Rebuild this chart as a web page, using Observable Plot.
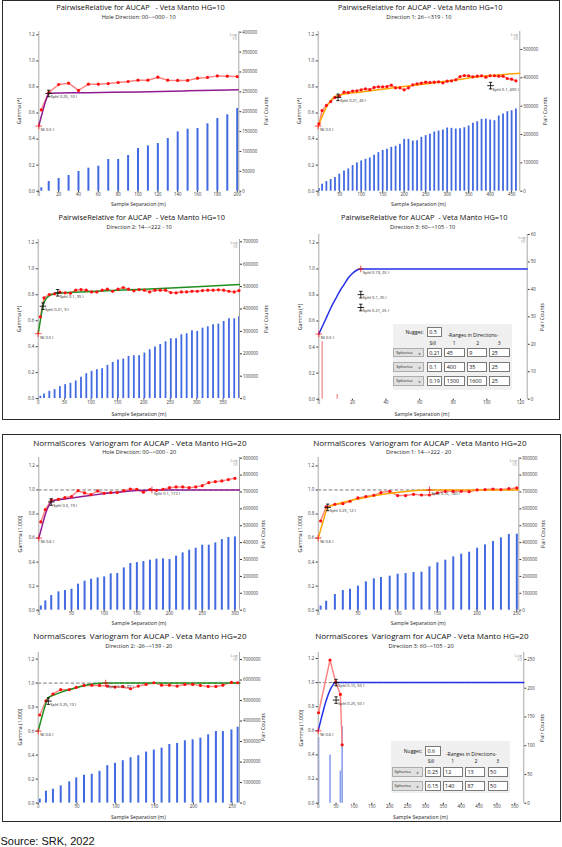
<!DOCTYPE html>
<html><head><meta charset="utf-8">
<script src="https://cdn.jsdelivr.net/npm/d3@7"></script>
<script src="https://cdn.jsdelivr.net/npm/@observablehq/plot@0.6"></script>
<style>
html,body{margin:0;padding:0;background:#fff;}
#root{position:relative;width:562px;height:847px;overflow:hidden;font-family:"Open Sans",sans-serif;}
</style></head><body><div id="root"></div>
<script>
// ---------------- DATA ----------------
const gammaTicks = [0, 0.2, 0.4, 0.6, 0.8, 1.0, 1.2];

// Panel 1 — PairwiseRelative, Hole Direction
const p1Title = "PairwiseRelative for AUCAP   - Veta Manto HG=10";
const p1Sub = "Hole Direction: 00-->000 - 10";
const p1Lag = [2.5,10,20,30,40,50,60,70,80,90,100,110,120,130,140,150,160,170,180,190,200];
const p1Gamma = [0.624,0.757,0.819,0.829,0.773,0.821,0.821,0.826,0.834,0.842,0.852,0.852,0.875,0.852,0.850,0.850,0.867,0.873,0.885,0.883,0.880];
const p1Pairs = [8400,24300,31900,39400,49500,57900,62900,79700,79700,89700,107300,114000,119900,132500,149300,156000,157700,169400,182800,192000,208000];
const p1ModelLag = [0,2,4,6,8,10,50,100,150,201];
const p1ModelGamma = [0.5,0.56,0.615,0.67,0.715,0.752,0.756,0.762,0.77,0.778];
const p1MarkLag = [0,10];
const p1MarkGamma = [0.5,0.75];
const p1MarkLabel = ["N( 0.5 )","Sph( 0.25, 10 )"];
const p1MarkKind = ["nugget","structure"];
const p1XTicks = [0,20,40,60,80,100,120,140,160,180,200];
const p1PairTicks = [0,50000,100000,150000,200000,250000,300000,350000,400000];

// Panel 2 — Direction 1
const p2Title = "PairwiseRelative for AUCAP - Veta Manto HG=10";
const p2Sub = "Direction 1: 26-->319 - 10";
const p2Lag = [2,9,19,29,39,49,60,70,80,90,100,110,120,130,140,150,160,170,180,190,200,210,220,230,240,250,260,270,280,290,300,310,320,330,340,350,360,370,380,390,400,410,420,430,440,450,460];
const p2Gamma = [0.517,0.619,0.658,0.688,0.72,0.73,0.76,0.757,0.768,0.770,0.778,0.786,0.780,0.796,0.801,0.801,0.803,0.814,0.793,0.793,0.778,0.793,0.816,0.824,0.829,0.837,0.834,0.837,0.839,0.832,0.844,0.847,0.855,0.88,0.888,0.886,0.878,0.883,0.886,0.875,0.886,0.886,0.883,0.883,0.865,0.86,0.847];
const p2Pairs = [8200,24600,34000,41000,48000,60000,71600,78600,90300,99700,106700,112600,117300,126700,136000,144000,147800,154800,158400,165400,183000,183000,177000,178300,190000,196000,200600,208800,212300,215800,222900,221700,219400,220500,224000,230000,239300,245200,253400,254500,251000,248700,265100,272100,280300,283900,289700];
const p2ModelLag = [0,10,20,30,40,46,100,200,300,400,469];
const p2ModelGamma = [0.5,0.58,0.65,0.7,0.728,0.735,0.762,0.803,0.845,0.887,0.905];
const p2MarkLag = [0,46,401];
const p2MarkGamma = [0.5,0.72,0.81];
const p2MarkLabel = ["N( 0.5 )","Sph( 0.21, 45 )","Sph( 0.1, 400 )"];
const p2MarkKind = ["nugget","structure","structure"];
const p2XTicks = [0,50,100,150,200,250,300,350,400,450];
const p2PairTicks = [0,100000,200000,300000,400000,500000];

// Panel 3 — Direction 2
const p3Title = "PairwiseRelative for AUCAP  - Veta Manto HG=10";
const p3Sub = "Direction 2: 14-->222 - 10";
const p3Lag = [4,11,21,31,41,51,61,71,81,91,101,111,121,131,141,151,161,171,181,191,201,211,221,231,241,251,261,271,281,291,301,311,321,331,341,351,361,371,380];
const p3Gamma = [0.63,0.776,0.802,0.807,0.82,0.815,0.812,0.835,0.84,0.835,0.822,0.822,0.835,0.843,0.827,0.843,0.856,0.843,0.83,0.84,0.835,0.822,0.835,0.835,0.835,0.817,0.815,0.822,0.822,0.827,0.827,0.832,0.835,0.835,0.838,0.835,0.827,0.822,0.832];
const p3Pairs = [10400,20800,32600,40000,53400,62300,68200,78600,95000,111300,121700,129100,133500,148400,161700,172100,176600,188400,191400,191400,203300,218200,230000,241800,253700,267100,267100,284900,289300,302700,299700,314500,320500,329400,332300,344200,356000,356000,365000];
const p3ModelLag = [0,3,6,9,15,25,37,100,200,300,381];
const p3ModelGamma = [0.5,0.575,0.65,0.715,0.77,0.8,0.812,0.825,0.843,0.862,0.879];
const p3MarkLag = [0,9,37];
const p3MarkGamma = [0.5,0.712,0.815];
const p3MarkLabel = ["N( 0.5 )","Sph( 0.21, 9 )","Sph( 0.1, 35 )"];
const p3MarkKind = ["nugget","structure","structure"];
const p3XTicks = [0,50,100,150,200,250,300,350];
const p3PairTicks = [0,100000,200000,300000,400000,500000,600000,700000];

// Panel 4 — Direction 3
const p4Title = "PairwiseRelative for AUCAP  - Veta Manto HG=10";
const p4Sub = "Direction 3: 60-->105 - 10";
const p4Lag = [];
const p4Gamma = [];
const p4PairLag = [2,11];
const p4Pairs = [21,1.7];
const p4ModelLag = [0,2.5,5,7.5,10,12.5,15,17.5,20,22.5,25,124];
const p4ModelGamma = [0.5,0.57,0.64,0.71,0.77,0.83,0.88,0.93,0.965,0.99,1.0,1.0];
const p4MarkLag = [0,25,25,25];
const p4MarkGamma = [0.5,1.0,0.803,0.704];
const p4MarkLabel = ["N( 0.5 )","Sph( 0.19, 25 )","Sph( 0.1, 25 )","Sph( 0.21, 25 )"];
const p4MarkKind = ["nugget","total","structure","structure"];
const p4XTicks = [0,20,40,60,80,100,120];
const p4PairTicks = [0,10,20,30,40,50,60];
const t1Nugget = 0.5;
const t1Type = ["Spherica","Spherica","Spherica"];
const t1Sill = [0.21,0.1,0.19];
const t1R1 = [45,400,1300];
const t1R2 = [9,35,1600];
const t1R3 = [25,25,25];

// Panel 5 — NormalScores, Hole Direction
const p5Title = "NormalScores  Variogram for AUCAP - Veta Manto HG=20";
const p5Sub = "Hole Direction: 00-->000 - 20";
const p5Lag = [3,10,19,30,40,50,60,70,80,90,100,110,120,130,140,150,160,170,180,190,200,210,220,230,240,250,260,270,280,290,300];
const p5Gamma = [0.734,0.837,0.914,0.922,0.936,0.945,0.994,0.975,0.961,0.992,0.972,0.978,0.978,0.994,1.008,1.006,0.981,1.003,0.997,1.006,1.019,1.025,1.025,1.019,1.025,1.036,1.061,1.069,1.075,1.086,1.097];
const p5Pairs = [25000,55000,86800,108500,116400,124300,153800,171600,183400,191300,197200,215000,217000,250500,276100,282000,288000,295900,301800,303700,299800,319500,339300,355000,366900,384600,384600,398400,418100,430000,433900];
const p5ModelLag = [0,4,8,12,16,19,40,80,120,150,172,307];
const p5ModelGamma = [0.6,0.68,0.76,0.83,0.875,0.905,0.925,0.955,0.98,0.995,1.0,1.0];
const p5MarkLag = [0,19,173];
const p5MarkGamma = [0.6,0.9,1.0];
const p5MarkLabel = ["N( 0.6 )","Sph( 0.3, 19 )","Sph( 0.1, 172 )"];
const p5MarkKind = ["nugget","structure","total"];
const p5XTicks = [0,50,100,150,200,250,300];
const p5PairTicks = [0,100000,200000,300000,400000,500000,600000,700000,800000,900000];

// Panel 6 — Direction 1
const p6Title = "NormalScores  Variogram for AUCAP - Veta Manto HG=20";
const p6Sub = "Direction 1: 14-->222 - 20";
const p6Lag = [3,10,21,31,40,50,60,70,79,90,100,110,120,130,140,150,160,170,180,190,200,210,220,230,240,250];
const p6Gamma = [0.742,0.859,0.881,0.886,0.906,0.934,0.945,0.956,0.978,0.989,0.953,0.953,0.964,0.958,0.958,0.975,0.989,0.989,0.989,0.986,1.0,1.003,1.008,1.003,1.011,1.017];
const p6Pairs = [24000,53000,92700,116400,124300,142000,167600,185400,193300,201200,213000,217000,222900,224900,256400,280100,295900,315600,331400,343200,366900,386600,406300,428000,447700,449700];
const p6ModelLag = [0,4,8,12,20,50,80,110,140,252];
const p6ModelGamma = [0.6,0.69,0.78,0.855,0.875,0.925,0.962,0.988,1.0,1.0];
const p6MarkLag = [0,12,140];
const p6MarkGamma = [0.6,0.855,1.0];
const p6MarkLabel = ["N( 0.6 )","Sph( 0.25, 12 )","Sph( 0.15, 140 )"];
const p6MarkKind = ["nugget","structure","total"];
const p6XTicks = [0,50,100,150,200,250];
const p6PairTicks = p5PairTicks;

// Panel 7 — Direction 2
const p7Title = "NormalScores  Variogram for AUCAP - Veta Manto HG=20";
const p7Sub = "Direction 2: -26-->139 - 20";
const p7Lag = [2,10,19,29,40,49,59,69,79,89,99,109,119,129,139,149,159,169,179,189,199,209,219,229,238,249,257];
const p7Gamma = [0.734,0.853,0.909,0.945,0.945,0.964,0.981,0.983,0.981,0.975,0.967,0.97,0.953,0.975,0.989,1.003,0.983,0.983,0.975,0.989,0.989,0.981,0.972,0.972,0.983,1.006,1.003];
const p7Pairs = [194000,582000,678000,840000,1034000,1228000,1357000,1405000,1551000,1826000,1939000,2068000,2213000,2310000,2488000,2585000,2682000,2859000,2908000,3037000,3086000,3166000,3328000,3489000,3489000,3570000,3700000];
const p7ModelLag = [0,4,8,13,20,30,40,50,60,70,80,87,260];
const p7ModelGamma = [0.6,0.7,0.79,0.88,0.9,0.925,0.946,0.964,0.98,0.992,0.998,1.0,1.0];
const p7MarkLag = [0,13,87];
const p7MarkGamma = [0.6,0.85,1.0];
const p7MarkLabel = ["N( 0.6 )","Sph( 0.25, 13 )","Sph( 0.15, 87 )"];
const p7MarkKind = ["nugget","structure","total"];
const p7XTicks = [0,50,100,150,200,250];
const p7PairTicks = [0,1000000,2000000,3000000,4000000,5000000,6000000,7000000];

// Panel 8 — Direction 3
const p8Title = "NormalScores  Variogram for AUCAP - Veta Manto HG=20";
const p8Sub = "Direction 3: 60-->105 - 20";
const p8Lag = [1,33,49,62,67];
const p8Gamma = [0.75,1.187,1.004,0.902,0.484];
const p8PairLag = [1,33,62,67];
const p8Pairs = [114,84,56,133];
const p8ModelLag = [0,5,10,15,20,25,30,35,40,45,50,575];
const p8ModelGamma = [0.6,0.66,0.72,0.775,0.83,0.875,0.915,0.95,0.975,0.993,1.0,1.0];
const p8MarkLag = [0,50,50];
const p8MarkGamma = [0.6,1.0,0.855];
const p8MarkLabel = ["N( 0.6 )","Sph( 0.15, 50 )","Sph( 0.25, 50 )"];
const p8MarkKind = ["nugget","structure","structure"];
const p8XTicks = [0,50,100,150,200,250,300,350,400,450,500,550];
const p8PairTicks = [0,50,100,150,200,250];
const t2Nugget = 0.6;
const t2Type = ["Spherica","Spherica"];
const t2Sill = [0.25,0.15];
const t2R1 = [12,140];
const t2R2 = [13,87];
const t2R3 = [50,50];

const source = "Source: SRK, 2022";

// ---------------- LAYOUT / STYLE ----------------
const FONT = "'Open Sans', sans-serif";
const root = document.getElementById("root");
const kindColor = {nugget: "#ff1a1a", total: "#e01010", structure: "#111"};

const panels = [
  {L:{left:0,x0:38.3,x1:238.3,yTop:31,yBot:190.7,gTop:1.2256,cMax:401800,xMax:201.6,titleX:140.5,titleY:8.3,subX:138.7,subY:18.3,xlabX:138.3,xlabY:205,ylabX:20,pcX:266.7,tSize:7.4},
   title:p1Title,sub:p1Sub,ylab:"Gamma (*)",lag:p1Lag,gamma:p1Gamma,pairLag:p1Lag,pairs:p1Pairs,mLag:p1ModelLag,mGamma:p1ModelGamma,kLag:p1MarkLag,kGamma:p1MarkGamma,kLabel:p1MarkLabel,kKind:p1MarkKind,xTicks:p1XTicks,pairTicks:p1PairTicks,modelColor:"#8e1c90",barColor:"#4169e1",barW:2,dashed:false},
  {L:{left:281,x0:317.7,x1:519.3,yTop:31,yBot:190.7,gTop:1.2256,cMax:563500,xMax:469,titleX:420.2,titleY:8.3,subX:418.8,subY:18.3,xlabX:418.5,xlabY:205,ylabX:300,pcX:546,tSize:7.4},
   title:p2Title,sub:p2Sub,ylab:"Gamma (*)",lag:p2Lag,gamma:p2Gamma,pairLag:p2Lag,pairs:p2Pairs,mLag:p2ModelLag,mGamma:p2ModelGamma,kLag:p2MarkLag,kGamma:p2MarkGamma,kLabel:p2MarkLabel,kKind:p2MarkKind,xTicks:p2XTicks,pairTicks:p2PairTicks,modelColor:"#ffa500",barColor:"#4169e1",barW:1.8,dashed:false},
  {L:{left:0,x0:37.7,x1:239,yTop:239.4,yBot:398.5,gTop:1.2257,cMax:710300,xMax:381,titleX:141.7,titleY:217.7,subX:139.2,subY:227.7,xlabX:138.8,xlabY:414.7,ylabX:20,pcX:267,tSize:7.4},
   title:p3Title,sub:p3Sub,ylab:"Gamma (*)",lag:p3Lag,gamma:p3Gamma,pairLag:p3Lag,pairs:p3Pairs,mLag:p3ModelLag,mGamma:p3ModelGamma,kLag:p3MarkLag,kGamma:p3MarkGamma,kLabel:p3MarkLabel,kKind:p3MarkKind,xTicks:p3XTicks,pairTicks:p3PairTicks,modelColor:"#1f8f1f",barColor:"#4169e1",barW:1.8,dashed:false},
  {L:{left:281,x0:318.3,x1:526.7,yTop:234.3,yBot:399,gTop:1.2645,cMax:60,xMax:124,titleX:424.3,titleY:217.7,subX:422.7,subY:227.7,xlabX:421.8,xlabY:414.7,ylabX:301,pcX:543.3,tSize:7.4},
   title:p4Title,sub:p4Sub,ylab:"Gamma (*)",lag:p4Lag,gamma:p4Gamma,pairLag:p4PairLag,pairs:p4Pairs,mLag:p4ModelLag,mGamma:p4ModelGamma,kLag:p4MarkLag,kGamma:p4MarkGamma,kLabel:p4MarkLabel,kKind:p4MarkKind,xTicks:p4XTicks,pairTicks:p4PairTicks,modelColor:"#2430e8",barColor:"#f4a3a3",barW:1.6,dashed:false},
  {L:{left:0,x0:38.3,x1:239,yTop:457.3,yBot:610,gTop:1.27,cMax:904000,xMax:307,titleX:139.8,titleY:442.7,subX:139.2,subY:453.3,xlabX:139,xlabY:624,ylabX:20.7,pcX:264.3,tSize:8},
   title:p5Title,sub:p5Sub,ylab:"Gamma (1.000)",lag:p5Lag,gamma:p5Gamma,pairLag:p5Lag,pairs:p5Pairs,mLag:p5ModelLag,mGamma:p5ModelGamma,kLag:p5MarkLag,kGamma:p5MarkGamma,kLabel:p5MarkLabel,kKind:p5MarkKind,xTicks:p5XTicks,pairTicks:p5PairTicks,modelColor:"#8e1c90",barColor:"#4169e1",barW:2,dashed:true},
  {L:{left:281,x0:317.7,x1:518.3,yTop:457.3,yBot:610,gTop:1.27,cMax:904000,xMax:252.5,titleX:419.8,titleY:442.7,subX:418.5,subY:453.3,xlabX:418.2,xlabY:624,ylabX:301,pcX:544.3,tSize:8},
   title:p6Title,sub:p6Sub,ylab:"Gamma (1.000)",lag:p6Lag,gamma:p6Gamma,pairLag:p6Lag,pairs:p6Pairs,mLag:p6ModelLag,mGamma:p6ModelGamma,kLag:p6MarkLag,kGamma:p6MarkGamma,kLabel:p6MarkLabel,kKind:p6MarkKind,xTicks:p6XTicks,pairTicks:p6PairTicks,modelColor:"#ffa500",barColor:"#4169e1",barW:2,dashed:true},
  {L:{left:0,x0:37.7,x1:239,yTop:651.7,yBot:802.3,gTop:1.255,cMax:7343000,xMax:259.4,titleX:139.8,titleY:636,subX:138.8,subY:647.3,xlabX:138.3,xlabY:817.7,ylabX:20.7,pcX:264.3,tSize:8},
   title:p7Title,sub:p7Sub,ylab:"Gamma (1.000)",lag:p7Lag,gamma:p7Gamma,pairLag:p7Lag,pairs:p7Pairs,mLag:p7ModelLag,mGamma:p7ModelGamma,kLag:p7MarkLag,kGamma:p7MarkGamma,kLabel:p7MarkLabel,kKind:p7MarkKind,xTicks:p7XTicks,pairTicks:p7PairTicks,modelColor:"#1f8f1f",barColor:"#4169e1",barW:2,dashed:true},
  {L:{left:281,x0:317.7,x1:523.3,yTop:652.3,yBot:803,gTop:1.2496,cMax:262.2,xMax:575,titleX:421.8,titleY:636,subX:421,subY:647.3,xlabX:420.5,xlabY:818,ylabX:301.7,pcX:542.7,tSize:8},
   title:p8Title,sub:p8Sub,ylab:"Gamma (1.000)",lag:p8Lag,gamma:p8Gamma,pairLag:p8PairLag,pairs:p8Pairs,mLag:p8ModelLag,mGamma:p8ModelGamma,kLag:p8MarkLag,kGamma:p8MarkGamma,kLabel:p8MarkLabel,kKind:p8MarkKind,xTicks:p8XTicks,pairTicks:p8PairTicks,modelColor:"#2430e8",barColor:"#8aa0ec",barW:1.6,dashed:true}
];

function el(css, text, parent = root) {
  const d = document.createElement("div");
  d.style.cssText = css;
  if (text != null) d.textContent = text;
  parent.appendChild(d);
  return d;
}
function label(text, x, y, size, opt = {}) {
  const tx = opt.anchor === "start" ? "0" : "-50%";
  el(`position:absolute;left:${x}px;top:${y}px;font-size:${size}px;line-height:1;white-space:pre;color:${opt.color || "#111"};font-family:${FONT};transform:translate(${tx},-50%)${opt.rotate ? ` rotate(${opt.rotate}deg)` : ""};`, text);
}

const plusSym = {draw(ctx, size) { const r = Math.sqrt(size / Math.PI); ctx.moveTo(-r, 0); ctx.lineTo(r, 0); ctx.moveTo(0, -r); ctx.lineTo(0, r); }};
const crossSym = {draw(ctx, size) { const r = Math.sqrt(size / Math.PI); ctx.moveTo(-r, 0); ctx.lineTo(r, 0); ctx.moveTo(0, -r); ctx.lineTo(0, r); ctx.moveTo(-r * 0.5, -r); ctx.lineTo(r * 0.5, -r); ctx.moveTo(-r * 0.5, r); ctx.lineTo(r * 0.5, r); }};

// boxes
el("position:absolute;left:1.5px;top:0;width:558px;height:419.5px;box-sizing:border-box;border:1px solid #2a2a2a;");
el("position:absolute;left:1.5px;top:434px;width:559.5px;height:387.5px;box-sizing:border-box;border:1px solid #2a2a2a;");

function makePanel(P) {
  const L = P.L, W = 281, mt = 3, mb = 24;
  const H = mt + (L.yBot - L.yTop) + mb;
  const base = {width: W, height: H, marginTop: mt, marginBottom: mb, marginLeft: L.x0 - L.left, marginRight: L.left + W - L.x1,
    style: {background: "transparent", fontFamily: FONT, fontSize: "4.4px", color: "#333", overflow: "visible"}};
  const bars = P.pairLag.map((h, i) => ({h, n: P.pairs[i]}));
  const pts = P.lag.map((h, i) => ({h, g: P.gamma[i]}));
  const model = P.mLag.map((h, i) => ({h, g: P.mGamma[i]}));
  const marks = P.kLag.map((h, i) => ({h, g: P.kGamma[i], label: P.kLabel[i], kind: P.kKind[i]}));

  const barSvg = Plot.plot({...base,
    x: {domain: [0, L.xMax], axis: null},
    y: {domain: [0, L.cMax]},
    marks: [
      Plot.ruleX(bars, {x: "h", y1: 0, y2: "n", stroke: P.barColor, strokeWidth: P.barW}),
      Plot.axisY({anchor: "right", ticks: P.pairTicks, tickSize: 2, tickPadding: 1.5, tickFormat: d => String(d), label: null}),
      Plot.text(["Log\n10"], {text: d => d, frameAnchor: "top-right", dx: -2, dy: 1.5, textAnchor: "end", lineAnchor: "top", fill: "#8a8a8a", fontSize: 4.2, lineHeight: 1})
    ]});

  const gm = [];
  if (P.dashed) gm.push(Plot.ruleY([1], {stroke: "#555", strokeWidth: 0.8, strokeDasharray: "3.5,2"}));
  gm.push(Plot.ruleX([0, L.xMax], {stroke: "#a8a8a8", strokeWidth: 1}));
  gm.push(Plot.axisX({ticks: P.xTicks, tickSize: 1.5, tickPadding: 0.5, label: null}));
  gm.push(Plot.axisY({anchor: "left", ticks: gammaTicks, tickSize: 2, tickPadding: 2, tickFormat: d3.format(".1f"), label: null}));
  if (pts.length) gm.push(Plot.line(pts, {x: "h", y: "g", stroke: "#ff8585", strokeWidth: 1.5}));
  gm.push(Plot.line(model, {x: "h", y: "g", stroke: P.modelColor, strokeWidth: 1.5, curve: "monotone-x"}));
  if (pts.length) gm.push(Plot.dot(pts, {x: "h", y: "g", r: 1.6, fill: "#ff1010"}));
  for (const kind of ["structure", "nugget", "total"]) {
    const sub = marks.filter(d => d.kind === kind);
    if (!sub.length) continue;
    gm.push(Plot.dot(sub, {x: "h", y: "g", r: 3.3, symbol: kind === "structure" ? crossSym : plusSym, stroke: kindColor[kind], strokeWidth: kind === "structure" ? 0.9 : 0.8, fill: "none"}));
  }
  gm.push(Plot.text(marks, {x: "h", y: "g", text: "label", textAnchor: "start", dx: 2, dy: 3.6, fontSize: 4, fill: "#222"}));

  const gSvg = Plot.plot({...base, x: {domain: [0, L.xMax]}, y: {domain: [0, L.gTop]}, marks: gm});

  for (const svg of [barSvg, gSvg]) {
    svg.style.position = "absolute";
    svg.style.left = L.left + "px";
    svg.style.top = (L.yTop - mt) + "px";
    root.appendChild(svg);
  }
  const midY = (L.yTop + L.yBot) / 2;
  label(P.title, L.titleX, L.titleY, L.tSize, {color: "#111"});
  label(P.sub, L.subX, L.subY, 5.6, {color: "#222"});
  label("Sample Separation (m)", L.xlabX, L.xlabY, 5.2, {color: "#222"});
  label(P.ylab, L.ylabX, midY, 5.2, {color: "#222", rotate: -90});
  label("Pair Counts", L.pcX, midY, 5.2, {color: "#222", rotate: -90});
}
panels.forEach(makePanel);

// tables
function makeTable(T) {
  const lay = T.lay;
  const box = el(`position:absolute;left:${T.bx}px;top:${T.by}px;width:${T.w}px;height:${T.h}px;background:#f0f0f0;font-family:${FONT};color:#111;`);
  const add = (css, txt) => el("position:absolute;line-height:1;white-space:pre;" + css, txt, box);
  const input = (x, y, w, h, txt) => add(`left:${x}px;top:${y}px;width:${w}px;height:${h}px;box-sizing:border-box;background:#fff;border:0.6px solid #7a7a7a;font-size:5.4px;line-height:${h - 1.2}px;padding-left:1.5px;`, txt);
  add(`right:${T.w - 31}px;top:${lay.nugLabelY}px;transform:translateY(-50%);font-size:5px;`, "Nugget:");
  input(34, lay.nugY, 15.6, lay.nugH, String(T.nugget));
  add(`left:55px;top:${lay.rangesY}px;transform:translateY(-50%);font-size:5px;`, "-Ranges in Directions-");
  [["Sill", 40], ["1", 61.6], ["2", 85], ["3", 106.6]].forEach(([t, cx]) => add(`left:${cx}px;top:${lay.hdrY}px;transform:translate(-50%,-50%);font-size:5px;`, t));
  T.sill.forEach((s, i) => {
    const y = lay.rowY0 + i * lay.rowStep, h = lay.rowH;
    const dd = add(`left:0.6px;top:${y}px;width:31px;height:${h}px;box-sizing:border-box;background:#e1e1e1;border:0.6px solid #adadad;font-size:4px;line-height:${h - 1.2}px;padding-left:2px;`, T.type[i]);
    el(`position:absolute;right:2.5px;top:0;font-size:4.4px;line-height:${h - 1.2}px;color:#333;`, "\u2228", dd);
    input(34, y, 15.6, h, String(s));
    input(51.6, y, 20.4, h, String(T.r1[i]));
    input(74, y, 20.3, h, String(T.r2[i]));
    input(96.6, y, 20.4, h, String(T.r3[i]));
  });
}
makeTable({bx: 392.7, by: 323.5, w: 119, h: 66.5, nugget: t1Nugget, type: t1Type, sill: t1Sill, r1: t1R1, r2: t1R2, r3: t1R3,
  lay: {nugLabelY: 8.2, nugY: 3.8, nugH: 9.4, rangesY: 11.5, hdrY: 19.2, rowY0: 24.2, rowStep: 14.3, rowH: 9.6}});
makeTable({bx: 391, by: 740.7, w: 119.3, h: 52.6, nugget: t2Nugget, type: t2Type, sill: t2Sill, r1: t2R1, r2: t2R2, r3: t2R3,
  lay: {nugLabelY: 10, nugY: 5, nugH: 10, rangesY: 13.3, hdrY: 20, rowY0: 26, rowStep: 14.3, rowH: 10}});

el(`position:absolute;left:0.5px;top:841px;font-family:'Liberation Sans',Arial,sans-serif;font-size:11px;line-height:1;color:#111;transform:translateY(-50%);`, source);
</script></body></html>
